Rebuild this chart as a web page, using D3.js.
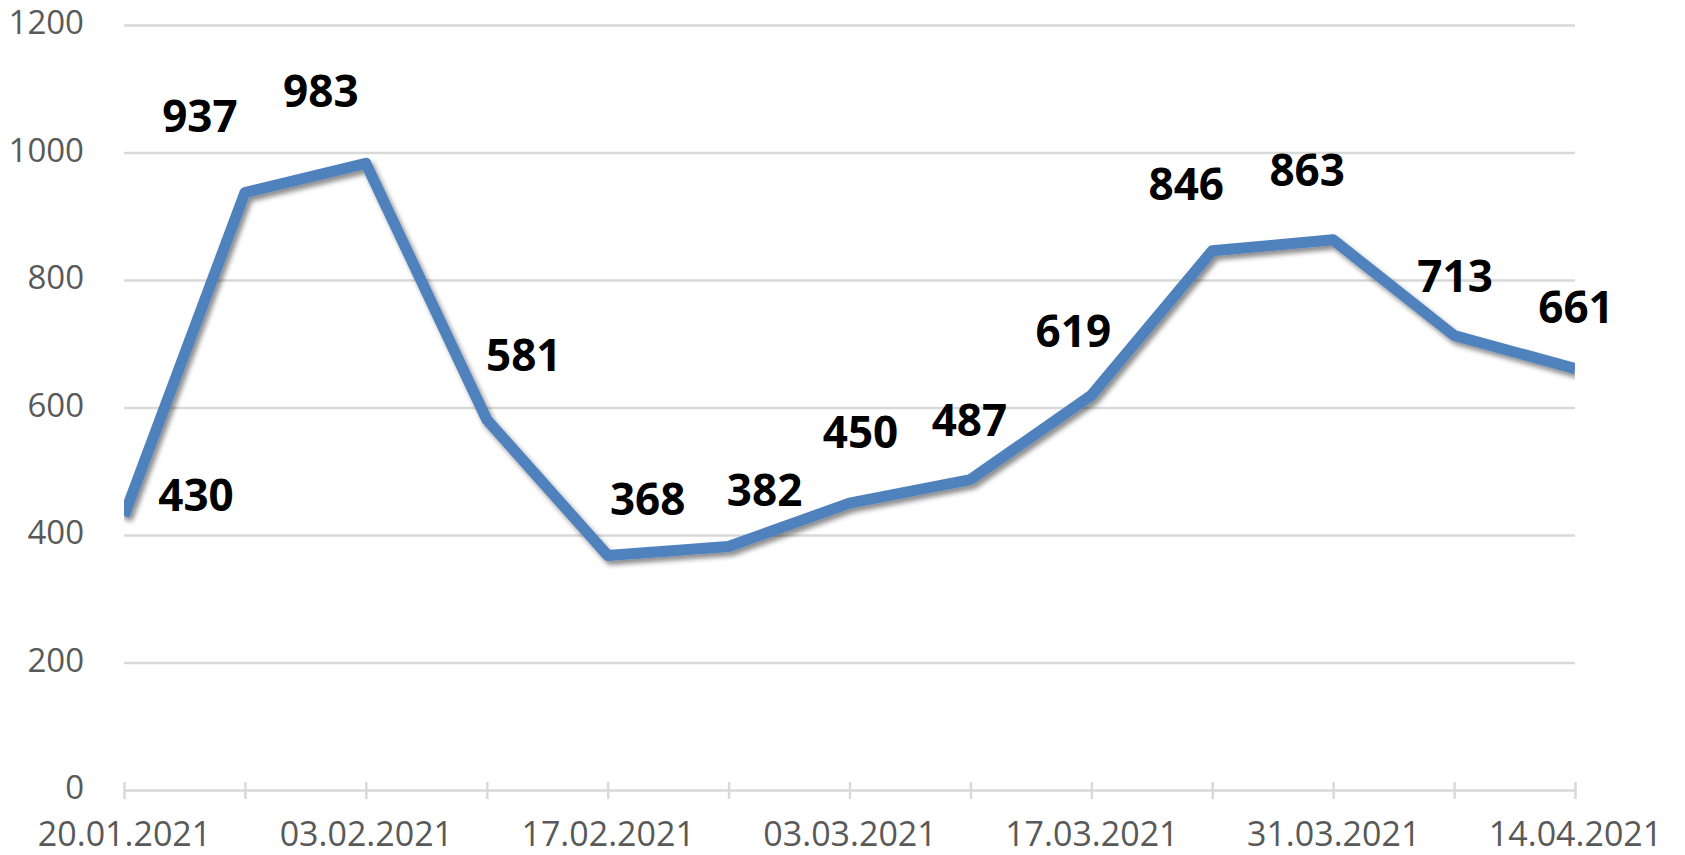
<!DOCTYPE html>
<html>
<head>
<meta charset="utf-8">
<script src="https://cdn.jsdelivr.net/npm/d3@7"></script>
<style>
  html, body { margin: 0; padding: 0; background: #fff; }
  svg { display: block; }
</style>
</head>
<body>
<div id="chart"></div>
<script>
// weekly values
const dates = ['20.01.2021', '27.01.2021', '03.02.2021', '10.02.2021', '17.02.2021', '24.02.2021',
  '03.03.2021', '10.03.2021', '17.03.2021', '24.03.2021', '31.03.2021', '07.04.2021', '14.04.2021'];
const values = [430, 937, 983, 581, 368, 382, 450, 487, 619, 846, 863, 713, 661];
const shownDates = ['20.01.2021', '03.02.2021', '17.02.2021', '03.03.2021', '17.03.2021', '31.03.2021', '14.04.2021'];
const yTicks = [0, 200, 400, 600, 800, 1000, 1200];

// the labels were dragged by hand in the original, nudges in px
const labelShift = [[72, -21], [-45, -77], [-45, -72], [37, -64], [40, -56], [36, -56], [11, -71],
  [-1, -59], [-18, -64], [-26, -67], [-26, -70], [1, -59], [1, -61]];

let width = 1685,
    height = 855,
    plotLeft = 124,
    plotRight = 1575,
    plotTop = 25,
    plotBottom = 790,
    grey = '#d9d9d9',
    textCol = '#595959',
    font = "'Open Sans', sans-serif";

let svg = d3.select('#chart').append('svg')
    .attr('width', width)
    .attr('height', height);

let x = d3.scalePoint().domain(dates).range([plotLeft, plotRight]);
let y = d3.scaleLinear().domain([0, 1200]).range([plotBottom, plotTop]);

// drop shadow for the line
let defs = svg.append('defs');
defs.append('filter')
    .attr('id', 'shadow')
    .attr('x', '-10%').attr('y', '-10%')
    .attr('width', '120%').attr('height', '130%')
  .append('feDropShadow')
    .attr('dx', 3)
    .attr('dy', 4)
    .attr('stdDeviation', 2.8)
    .attr('flood-color', '#000')
    .attr('flood-opacity', 0.45);
defs.append('clipPath')
    .attr('id', 'plot')
  .append('rect')
    .attr('x', plotLeft)
    .attr('y', 0)
    .attr('width', plotRight - plotLeft)
    .attr('height', height);

// gridlines + y labels
let yAxis = svg.append('g')
    .attr('transform', 'translate(' + plotLeft + ',0)')
    .call(d3.axisLeft(y)
        .tickValues(yTicks)
        .tickFormat(d3.format('d'))
        .tickSize(-(plotRight - plotLeft))
        .tickPadding(40));
yAxis.select('.domain').remove();
yAxis.selectAll('.tick line')
    .attr('stroke', grey)
    .attr('stroke-width', 2.5);
yAxis.selectAll('.tick line').filter((d) => d === 0).remove();
yAxis.selectAll('.tick text')
    .attr('fill', textCol)
    .attr('font-family', font)
    .attr('font-size', 33)
    .attr('dy', '0.26em');

// category axis, ticks crossing the line
let xAxis = svg.append('g')
    .attr('transform', 'translate(0,' + plotBottom + ')')
    .call(d3.axisBottom(x)
        .tickFormat((d) => shownDates.includes(d) ? d : '')
        .tickSizeOuter(0)
        .tickPadding(26));
xAxis.select('.domain')
    .attr('stroke', grey)
    .attr('stroke-width', 2.5);
xAxis.selectAll('.tick line')
    .attr('stroke', grey)
    .attr('stroke-width', 2.5)
    .attr('y1', -8)
    .attr('y2', 9);
xAxis.selectAll('.tick text')
    .attr('fill', textCol)
    .attr('font-family', font)
    .attr('font-size', 34)
    .attr('dy', '0.71em');

// the series
let line = d3.line()
    .x((d, i) => x(dates[i]))
    .y((d) => y(d));

svg.append('g')
    .attr('clip-path', 'url(#plot)')
  .append('path')
    .datum(values)
    .attr('d', line)
    .attr('fill', 'none')
    .attr('stroke', '#4f81bd')
    .attr('stroke-width', 11)
    .attr('stroke-linejoin', 'round')
    .attr('filter', 'url(#shadow)');

// value labels
svg.append('g').selectAll('text')
    .data(values)
    .enter().append('text')
    .attr('x', (d, i) => x(dates[i]) + labelShift[i][0])
    .attr('y', (d, i) => y(d) + labelShift[i][1])
    .attr('dy', '0.36em')
    .attr('text-anchor', 'middle')
    .attr('font-family', font)
    .attr('font-weight', 'bold')
    .attr('font-size', 44)
    .attr('fill', '#000')
    .text((d) => d);
</script>
</body>
</html>
